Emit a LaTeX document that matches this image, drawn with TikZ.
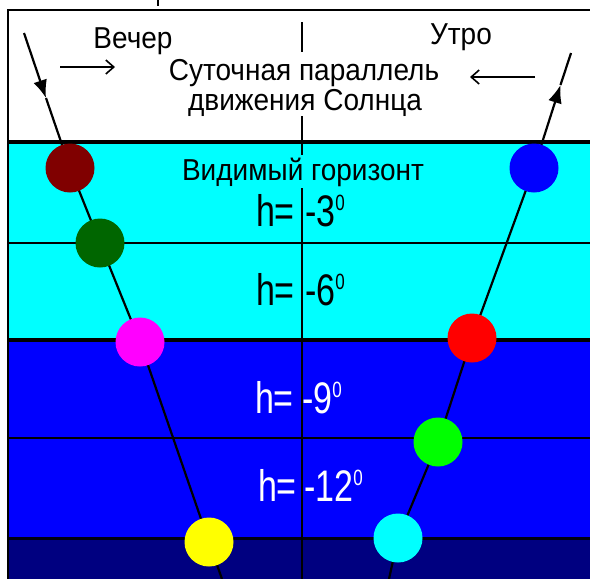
\documentclass[tikz,border=0pt]{standalone}
\usepackage{fontspec}
\setmainfont{Liberation Sans}
\usetikzlibrary{arrows.meta}
\definecolor{skycyan}{RGB}{0,255,255}
\definecolor{deepblue}{RGB}{0,0,255}
\definecolor{navyblue}{RGB}{0,0,128}
\definecolor{sunmaroon}{RGB}{128,0,0}
\definecolor{sundkgreen}{RGB}{0,102,0}
\definecolor{sunmagenta}{RGB}{255,0,255}
\definecolor{sunyellow}{RGB}{255,255,0}
\definecolor{sunblue}{RGB}{0,0,255}
\definecolor{sunred}{RGB}{255,0,0}
\definecolor{sungreen}{RGB}{0,255,0}
\definecolor{suncyan}{RGB}{0,255,255}
\newcommand\tallA[1]{\scalebox{1}[1.08]{#1}}
\newcommand\tallB[1]{\scalebox{1}[1.3]{#1}}
\newcommand\degz{\raisebox{12pt}{\fontsize{17}{17}\selectfont 0}}
\tikzset{
  sun/.style={circle, minimum size=49pt, inner sep=0pt, draw=none},
  sunpath/.style={line width=2.2pt, black},
  sep/.style={line width=1.5pt, black},
  vline/.style={line width=2pt, black},
  thicksep/.style={line width=3.2pt, black},
  toptext/.style={font=\fontsize{28}{30}\selectfont, inner sep=0pt, anchor=base},
  hlab/.style={font=\fontsize{34}{36}\selectfont, inner sep=0pt},
  textarrow/.style={line width=1.6pt, -{Straight Barb[length=8pt,width=14pt]}},
  bigtip/.style={-{Latex[length=18pt,width=14pt]}}
}
\begin{document}
\begin{tikzpicture}[x=1pt,y=-1pt]
\useasboundingbox (0,0) rectangle (590,579);
\fill[white] (0,0) rectangle (590,579);
% bands
\fill[skycyan] (8,142) rectangle (590,340);
\fill[deepblue] (8,340) rectangle (590,538);
\fill[navyblue] (8,538) rectangle (590,579);
% separators
\draw[thicksep] (8,142) -- (590,142);
\draw[sep] (8,243) -- (590,243);
\draw[line width=3.8pt] (8,340) -- (590,340);
\draw[sep] (8,438) -- (590,438);
\draw[line width=3pt, black!85!navyblue] (8,538) -- (590,538);
% frame
\draw[line width=2pt] (8,579) -- (8,10) -- (591,10);
% clipped tick at top
\draw[line width=1.4pt] (158,0) -- (158,6);
% central vertical line
\coordinate (v0) at (302,22);
\coordinate (v1) at (302,52);
\coordinate (v2) at (302,116);
\coordinate (v3) at (302,155);
\coordinate (v4) at (302,188);
\coordinate (v5) at (302,579);
\draw[vline] (v0) -- (v1);
\draw[vline] (v2) -- (v3);
\draw[vline] (v4) -- (v5);
% texts
\node[toptext] (evening) at (133,48) {\tallA{Вечер}};
\node[toptext] (morning) at (461,44) {\tallA{Утро}};
\node[toptext] (par1) at (304,80) {\tallA{Суточная параллель}};
\node[toptext] (par2) at (305,110) {\tallA{движения Солнца}};
\node[toptext] (horiz) at (303,180) {\tallA{Видимый горизонт}};
\node[hlab, anchor=base east] (h3) at (295,226) {\tallB{h=}};
\node[hlab, anchor=base west] (v3d) at (305,226) {\tallB{-3\degz}};
\node[hlab, anchor=base east] (h6) at (295,305) {\tallB{h=}};
\node[hlab, anchor=base west] (v6d) at (305,305) {\tallB{-6\degz}};
\node[hlab, anchor=base east, white] (h9) at (294,413) {\tallB{h=}};
\node[hlab, anchor=base west, white] (v9d) at (302,413) {\tallB{-9\degz}};
\node[hlab, anchor=base east, white] (h12) at (297,501) {\tallB{h=}};
\node[hlab, anchor=base west, white] (v12d) at (304,501) {\tallB{-12\degz}};
% direction arrows
\coordinate (ea0) at (60,67);
\coordinate (ea1) at (115,67);
\coordinate (ma0) at (535,77);
\coordinate (ma1) at (470,77);
\draw[textarrow] (ea0) -- (ea1);
\draw[textarrow] (ma0) -- (ma1);
% evening path
\coordinate (ltop) at (24,33);
\coordinate (ltip) at (46,98);
\coordinate (l1) at (70,168);
\coordinate (l2) at (100,243);
\coordinate (l3) at (140,342);
\coordinate (l4) at (209,542);
\coordinate (lend) at (222,579);
\draw[sunpath, bigtip] (ltop) -- (ltip);
\draw[sunpath] (ltip) -- (l1) -- (l2) -- (l3) -- (l4) -- (lend);
% morning path
\coordinate (rtop) at (571,53);
\coordinate (rtip) at (560.5,85);
\coordinate (r1) at (534,168);
\coordinate (r2) at (472,338);
\coordinate (r3) at (438,442);
\coordinate (r4) at (398,538);
\coordinate (rend) at (389,579);
\draw[sunpath, bigtip] (r1) -- (rtip);
\draw[sunpath] (rtip) -- (rtop);
\draw[sunpath] (rend) -- (r4) -- (r3) -- (r2) -- (r1);
% suns
\node[sun, fill=sunmaroon] (s1) at (l1) {};
\node[sun, fill=sundkgreen] (s2) at (l2) {};
\node[sun, fill=sunmagenta] (s3) at (l3) {};
\node[sun, fill=sunyellow] (s4) at (l4) {};
\node[sun, fill=sunblue] (t1) at (r1) {};
\node[sun, fill=sunred] (t2) at (r2) {};
\node[sun, fill=sungreen] (t3) at (r3) {};
\node[sun, fill=suncyan] (t4) at (r4) {};
\end{tikzpicture}
\end{document}
